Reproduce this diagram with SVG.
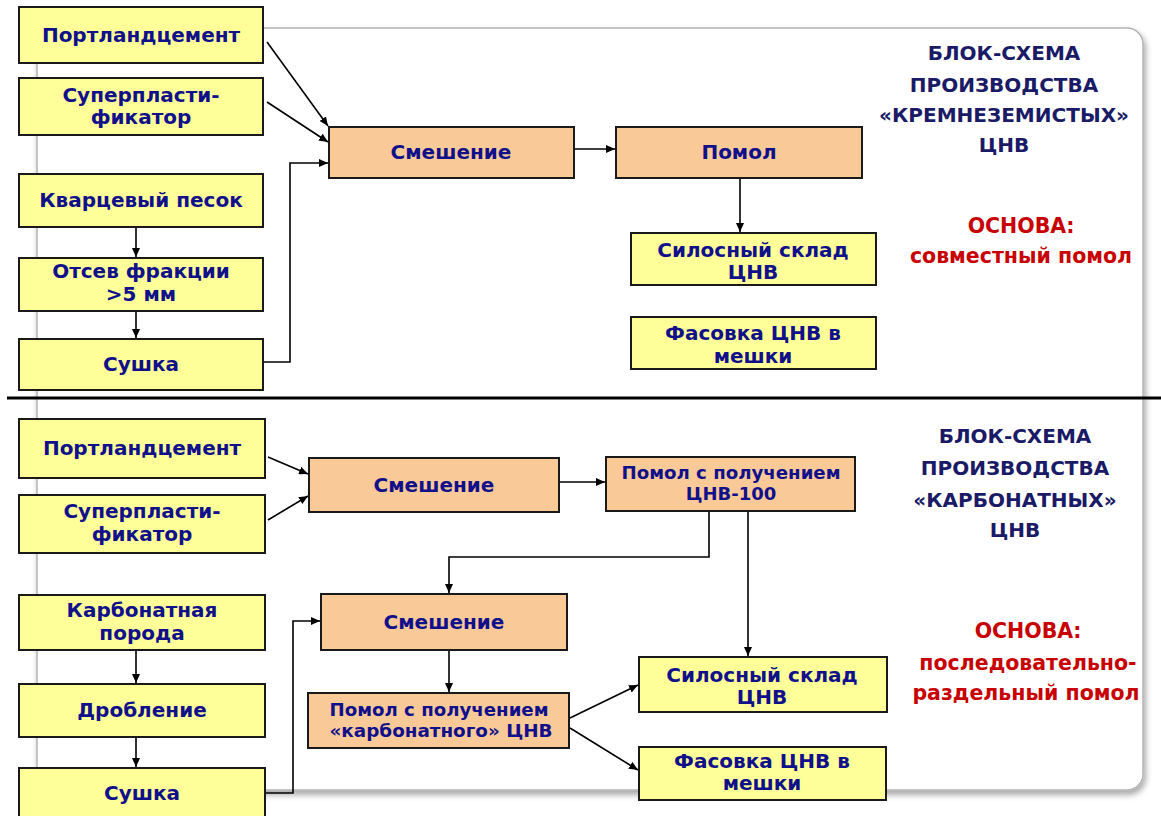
<svg xmlns="http://www.w3.org/2000/svg" width="1161" height="816" viewBox="0 0 1161 816">
<defs>
<filter id="sh" x="-5%" y="-5%" width="110%" height="110%">
<feDropShadow dx="2" dy="4" stdDeviation="3" flood-color="#000" flood-opacity="0.35"/>
</filter>
<marker id="ar" markerUnits="userSpaceOnUse" markerWidth="9" markerHeight="8" refX="9" refY="4" orient="auto">
<path d="M0,0 L9,4 L0,8 z" fill="#000"/>
</marker>
<style>
.y{fill:#ffff99;stroke:#1a1a1a;stroke-width:2}
.o{fill:#fac998;stroke:#1a1a1a;stroke-width:2}
.t{font-family:"DejaVu Sans",Tahoma,sans-serif;font-weight:bold;font-size:20px;fill:#10108a;text-anchor:middle}
.s{font-family:"DejaVu Sans",Tahoma,sans-serif;font-weight:bold;font-size:18px;fill:#10108a;text-anchor:middle}
.h{font-family:"DejaVu Sans",Tahoma,sans-serif;font-weight:bold;font-size:20px;fill:#1a1a66;text-anchor:middle}
.r{font-family:"DejaVu Sans",Tahoma,sans-serif;font-weight:bold;font-size:20.5px;fill:#c80000;text-anchor:middle}
.c{fill:none;stroke:#000;stroke-width:1.6;marker-end:url(#ar)}
</style>
</defs>
<rect width="1161" height="816" fill="#fff"/>
<rect x="37" y="28" width="1106" height="762" rx="16" fill="#fff" stroke="#b4b4b4" stroke-width="1.5" filter="url(#sh)"/>
<line x1="7" y1="398" x2="1161" y2="398" stroke="#000" stroke-width="3"/>

<g id="titles">
<text class="h" x="1004" y="60">БЛОК-СХЕМА</text>
<text class="h" x="1004" y="92">ПРОИЗВОДСТВА</text>
<text class="h" x="1004" y="122" textLength="250" lengthAdjust="spacingAndGlyphs">«КРЕМНЕЗЕМИСТЫХ»</text>
<text class="h" x="1004" y="152">ЦНВ</text>
<text class="r" x="1021" y="233">ОСНОВА:</text>
<text class="r" x="1021" y="263">совместный  помол</text>
<text class="h" x="1015" y="443">БЛОК-СХЕМА</text>
<text class="h" x="1015" y="475">ПРОИЗВОДСТВА</text>
<text class="h" x="1015" y="507">«КАРБОНАТНЫХ»</text>
<text class="h" x="1015" y="537">ЦНВ</text>
<text class="r" x="1028" y="638">ОСНОВА:</text>
<text class="r" x="1028" y="670">последовательно-</text>
<text class="r" x="1026" y="700">раздельный  помол</text>
</g>

<g id="connectors">
<path class="c" d="M267,42 L328,126"/>
<path class="c" d="M267,102 L328,142"/>
<path class="c" d="M263,362 H290 V163 H328"/>
<path class="c" d="M136,227 V257"/>
<path class="c" d="M136,311 V338"/>
<path class="c" d="M575,149 H615"/>
<path class="c" d="M740,178 V232"/>
<path class="c" d="M268,457 L308,474"/>
<path class="c" d="M268,520 L308,496"/>
<path class="c" d="M265,793 H293 V621 H320"/>
<path class="c" d="M136,650 V683"/>
<path class="c" d="M136,737 V767"/>
<path class="c" d="M560,482 H605"/>
<path class="c" d="M709,511 V557 H449 V593"/>
<path class="c" d="M748,511 V656"/>
<path class="c" d="M449,650 V692"/>
<path class="c" d="M570,718 L638,685"/>
<path class="c" d="M570,728 L638,770"/>
</g>

<g id="n1"><rect class="y" x="19" y="7" width="244" height="56"/><text class="t" x="141" y="42">Портландцемент</text></g>
<g id="n2"><rect class="y" x="19" y="78" width="244" height="57"/><text class="t" x="141" y="102">Суперпласти-</text><text class="t" x="141" y="124">фикатор</text></g>
<g id="n3"><rect class="y" x="19" y="174" width="244" height="53"/><text class="t" x="141" y="207">Кварцевый  песок</text></g>
<g id="n4"><rect class="y" x="19" y="258" width="244" height="53"/><text class="t" x="141" y="278">Отсев фракции</text><text class="t" x="141" y="301">&gt;5 мм</text></g>
<g id="n5"><rect class="y" x="19" y="339" width="244" height="51"/><text class="t" x="141" y="371">Сушка</text></g>
<g id="n6"><rect class="o" x="329" y="127" width="245" height="51"/><text class="t" x="451" y="159">Смешение</text></g>
<g id="n7"><rect class="o" x="616" y="127" width="246" height="51"/><text class="t" x="739" y="159">Помол</text></g>
<g id="n8"><rect class="y" x="631" y="233" width="245" height="52"/><text class="t" x="753" y="257">Силосный склад</text><text class="t" x="753" y="279">ЦНВ</text></g>
<g id="n9"><rect class="y" x="631" y="317" width="245" height="52"/><text class="t" x="753" y="340">Фасовка ЦНВ в</text><text class="t" x="753" y="363">мешки</text></g>

<g id="m1"><rect class="y" x="19" y="419" width="246" height="59"/><text class="t" x="142" y="455">Портландцемент</text></g>
<g id="m2"><rect class="y" x="19" y="495" width="246" height="58"/><text class="t" x="142" y="518">Суперпласти-</text><text class="t" x="142" y="541">фикатор</text></g>
<g id="m3"><rect class="y" x="19" y="595" width="246" height="55"/><text class="t" x="142" y="617">Карбонатная</text><text class="t" x="142" y="640">порода</text></g>
<g id="m4"><rect class="y" x="19" y="684" width="246" height="53"/><text class="t" x="142" y="717">Дробление</text></g>
<g id="m5"><rect class="y" x="19" y="768" width="246" height="58"/><text class="t" x="142" y="800">Сушка</text></g>
<g id="m6"><rect class="o" x="309" y="458" width="250" height="54"/><text class="t" x="434" y="492">Смешение</text></g>
<g id="m7"><rect class="o" x="606" y="457" width="249" height="54"/><text class="s" x="731" y="479" textLength="219" lengthAdjust="spacingAndGlyphs">Помол с получением</text><text class="s" x="731" y="500">ЦНВ-100</text></g>
<g id="m8"><rect class="o" x="321" y="594" width="246" height="56"/><text class="t" x="444" y="629">Смешение</text></g>
<g id="m9"><rect class="o" x="308" y="693" width="261" height="55"/><text class="s" x="439" y="716" textLength="219" lengthAdjust="spacingAndGlyphs">Помол с получением</text><text class="s" x="441" y="737" textLength="223" lengthAdjust="spacingAndGlyphs">«карбонатного» ЦНВ</text></g>
<g id="m10"><rect class="y" x="639" y="657" width="248" height="55"/><text class="t" x="762" y="682">Силосный склад</text><text class="t" x="762" y="704">ЦНВ</text></g>
<g id="m11"><rect class="y" x="639" y="747" width="247" height="53"/><text class="t" x="762" y="768">Фасовка ЦНВ в</text><text class="t" x="762" y="790">мешки</text></g>
</svg>
